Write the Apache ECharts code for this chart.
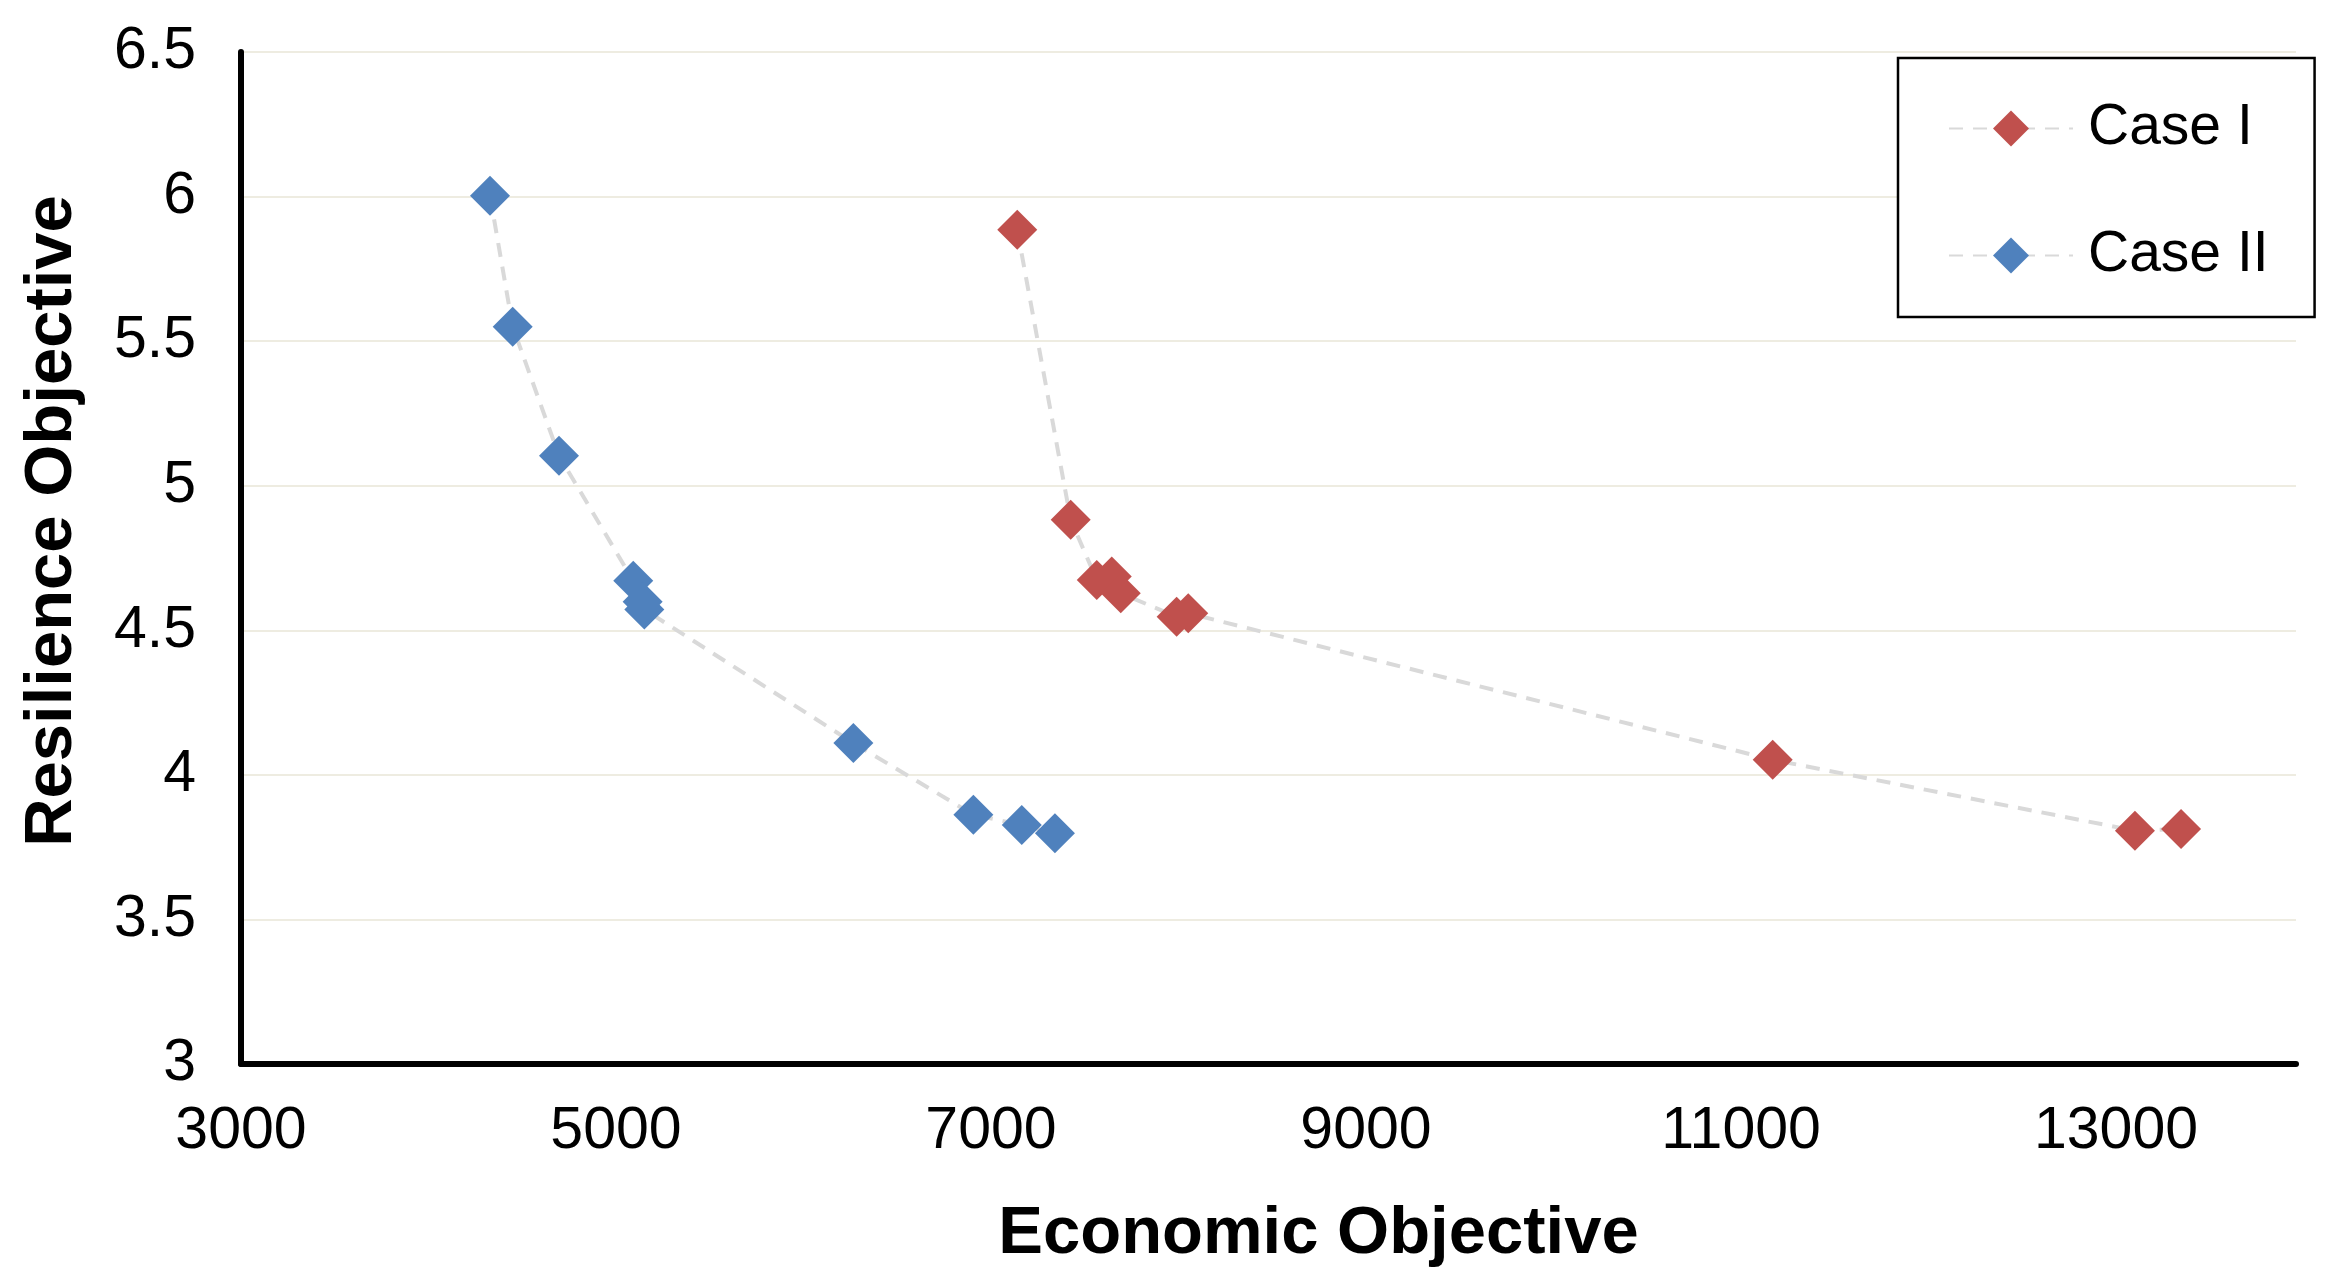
<!DOCTYPE html>
<html>
<head>
<meta charset="utf-8">
<script src="https://cdn.jsdelivr.net/npm/echarts@6/dist/echarts.min.js"></script>
<style>
html,body{margin:0;padding:0;background:#fff;}
#chart{width:2341px;height:1286px;}
</style>
</head>
<body>
<div id="chart"></div>
<script>
const seriesNames = ['Case I', 'Case II'];
const caseIEconomic = [7140, 7425, 7564, 7644, 7692, 7990, 8052, 11169, 13101, 13347];
const caseIResilience = [5.885, 4.882, 4.674, 4.686, 4.628, 4.547, 4.559, 4.052, 3.807, 3.813];
const caseIIEconomic = [4328, 4449, 4696, 5092, 5142, 5151, 6266, 6906, 7164, 7341];
const caseIIResilience = [6.003, 5.55, 5.104, 4.671, 4.599, 4.572, 4.11, 3.862, 3.827, 3.798];
const xTicks = [3000, 5000, 7000, 9000, 11000, 13000];
const yTicks = [3, 3.5, 4, 4.5, 5, 5.5, 6, 6.5];

const pair = (xs, ys) => xs.map((x, i) => [x, ys[i]]);
const FONT = '"Liberation Sans", Arial, sans-serif';

const chart = echarts.init(document.getElementById('chart'), null, {renderer: 'canvas'});
const lineStyle = {color: '#D9D9D9', width: 4, type: [14, 10]};

chart.setOption({
  backgroundColor: '#ffffff',
  animation: false,
  textStyle: {fontFamily: FONT},
  grid: {left: 241, right: 45, top: 52, bottom: 222, containLabel: false},
  legend: {
    orient: 'vertical',
    left: 1898,
    top: 58,
    padding: [42, 46, 33, 50],
    itemWidth: 124,
    itemHeight: 45,
    itemGap: 70,
    borderColor: '#000',
    borderWidth: 2.5,
    backgroundColor: '#fff',
    textStyle: {fontSize: 57, color: '#000', fontFamily: FONT, padding: [0, 0, 0, 10], lineHeight: 45},
    data: seriesNames
  },
  xAxis: {
    type: 'value',
    min: xTicks[0],
    max: 13960,
    interval: 2000,
    name: 'Economic Objective',
    nameLocation: 'middle',
    nameGap: 137,
    nameTextStyle: {fontSize: 67, fontWeight: 'bold', color: '#000', fontFamily: FONT, padding: [0, 0, 0, 100]},
    axisLine: {show: true, lineStyle: {color: '#000', width: 6}},
    axisTick: {show: false},
    splitLine: {show: false},
    axisLabel: {
      fontSize: 59, color: '#000', margin: 38, fontFamily: FONT,
      showMaxLabel: false,
      formatter: v => (xTicks.indexOf(v) >= 0 ? String(v) : '')
    }
  },
  yAxis: {
    type: 'value',
    min: yTicks[0],
    max: yTicks[yTicks.length - 1],
    interval: 0.5,
    name: 'Resilience Objective',
    nameLocation: 'middle',
    nameGap: 155,
    nameTextStyle: {fontSize: 67, fontWeight: 'bold', color: '#000', fontFamily: FONT, padding: [0, 0, 0, 74]},
    axisLine: {show: true, lineStyle: {color: '#000', width: 6}},
    axisTick: {show: false},
    splitLine: {show: true, lineStyle: {color: '#EEECE1', width: 2}},
    axisLabel: {fontSize: 59, color: '#000', margin: 45, fontFamily: FONT, formatter: v => String(v)}
  },
  series: [
    {
      name: seriesNames[0],
      type: 'line',
      data: pair(caseIEconomic, caseIResilience),
      symbol: 'diamond',
      symbolSize: 40,
      showAllSymbol: true,
      itemStyle: {color: '#C0504D'},
      lineStyle: lineStyle,
      z: 3
    },
    {
      name: seriesNames[1],
      type: 'line',
      data: pair(caseIIEconomic, caseIIResilience),
      symbol: 'diamond',
      symbolSize: 40,
      showAllSymbol: true,
      itemStyle: {color: '#4F81BD'},
      lineStyle: lineStyle,
      z: 3
    }
  ]
});
</script>
</body>
</html>
